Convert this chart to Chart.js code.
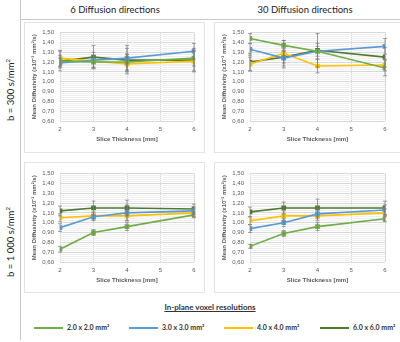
<!DOCTYPE html>
<html>
<head>
<meta charset="utf-8">
<script src="https://cdn.jsdelivr.net/npm/chart.js@4.4.1/dist/chart.umd.min.js"></script>
<style>
  body { margin: 0; background: #fff; font-family: Lato, "Open Sans", sans-serif; }
  #wrap { position: relative; width: 400px; height: 342px; overflow: hidden; }
  .abs { position: absolute; }
  .box { position: absolute; border: 1px solid #e3e3e3; box-sizing: border-box; }
  .head { position: absolute; top: 4px; font-size: 9.5px; color: #222; text-align: center; width: 180px; }
  .rowlab { position: absolute; font-size: 9.5px; color: #222; white-space: nowrap;
            transform: translate(-50%, -50%) rotate(-90deg); }
  canvas { position: absolute; }
  #legTitle { position: absolute; top: 302px; left: 110px; width: 200px; text-align: center;
              font-size: 8px; font-weight: bold; text-decoration: underline; color: #333; }
  .legItem { position: absolute; top: 323px; font-size: 7px; font-weight: bold; color: #333; white-space: nowrap; }
  .legItem span { display: inline-block; width: 29px; height: 2px; vertical-align: middle; margin-right: 4px; }
</style>
</head>
<body>
<div id="wrap">
  <div class="abs" style="left:20px;top:0;width:1px;height:340px;background:#c8c8c8"></div>
  <div class="abs" style="left:20px;top:19px;width:380px;height:1px;background:#c8c8c8"></div>
  <div class="head" style="left:25px">6 Diffusion directions</div>
  <div class="head" style="left:215px">30 Diffusion directions</div>
  <div class="rowlab" style="left:10px;top:90px">b = 300 s/mm<sup style="font-size:6px">2</sup></div>
  <div class="rowlab" style="left:10px;top:242px">b = 1 000 s/mm<sup style="font-size:6px">2</sup></div>
  <div class="box" style="left:24px;top:22px;width:181px;height:131px"></div>
  <div class="box" style="left:214px;top:22px;width:190px;height:131px"></div>
  <div class="box" style="left:24px;top:162px;width:181px;height:131px"></div>
  <div class="box" style="left:214px;top:162px;width:190px;height:131px"></div>
  <canvas id="c1" width="178" height="128" style="left:25px;top:23px"></canvas>
  <canvas id="c2" width="180" height="128" style="left:215px;top:23px"></canvas>
  <canvas id="c3" width="178" height="128" style="left:25px;top:164px"></canvas>
  <canvas id="c4" width="180" height="128" style="left:215px;top:164px"></canvas>
  <div id="legTitle">In-plane voxel resolutions</div>
  <div id="legend"></div>
</div>
<script>
// slice thickness (mm)
const thickness = [2, 3, 4, 6];
const resolutions = ['2.0 x 2.0 mm²', '3.0 x 3.0 mm²', '4.0 x 4.0 mm²', '6.0 x 6.0 mm²'];
const yTicks = [0.6, 0.7, 0.8, 0.9, 1.0, 1.1, 1.2, 1.3, 1.4, 1.5];

// mean diffusivity, one row per in-plane resolution
const b300dir6 = [
  [1.21, 1.20, 1.20, 1.24],
  [1.19, 1.22, 1.24, 1.31],
  [1.24, 1.21, 1.18, 1.21],
  [1.21, 1.25, 1.22, 1.22]
];
const b300dir6Err = [
  [0.10, 0.06, 0.08, 0.08],
  [0.05, 0.08, 0.13, 0.08],
  [0.08, 0.06, 0.10, 0.10],
  [0.06, 0.12, 0.12, 0.12]
];
const b300dir30 = [
  [1.44, 1.37, 1.31, 1.14],
  [1.33, 1.24, 1.31, 1.36],
  [1.18, 1.29, 1.16, 1.17],
  [1.20, 1.25, 1.32, 1.25]
];
const b300dir30Err = [
  [0.05, 0.05, 0.05, 0.08],
  [0.06, 0.10, 0.08, 0.08],
  [0.07, 0.13, 0.07, 0.06],
  [0.09, 0.06, 0.17, 0.10]
];
const b1000dir6 = [
  [0.73, 0.90, 0.96, 1.08],
  [0.95, 1.06, 1.10, 1.12],
  [1.05, 1.07, 1.07, 1.10],
  [1.12, 1.15, 1.15, 1.14]
];
const b1000dir6Err = [
  [0.03, 0.03, 0.04, 0.03],
  [0.04, 0.04, 0.08, 0.04],
  [0.04, 0.04, 0.05, 0.04],
  [0.05, 0.07, 0.08, 0.05]
];
const b1000dir30 = [
  [0.76, 0.89, 0.96, 1.04],
  [0.94, 1.00, 1.09, 1.13],
  [1.02, 1.07, 1.07, 1.10],
  [1.11, 1.15, 1.15, 1.15]
];
const b1000dir30Err = [
  [0.02, 0.03, 0.04, 0.03],
  [0.04, 0.04, 0.05, 0.05],
  [0.04, 0.05, 0.05, 0.04],
  [0.05, 0.06, 0.09, 0.07]
];

const colors = ['#70AD47', '#5B9BD5', '#FFC000', '#4E7A30'];

// simple error bar plugin, positions come from the chart scales
const errorBars = {
  id: 'errorBars',
  afterDatasetsDraw(chart) {
    const ctx = chart.ctx;
    const xs = chart.scales.x, ys = chart.scales.y;
    ctx.save();
    ctx.strokeStyle = '#7a7a7a';
    ctx.lineWidth = 0.7;
    chart.data.datasets.forEach(ds => {
      ds.data.forEach((p, i) => {
        const px = xs.getPixelForValue(p.x);
        const top = ys.getPixelForValue(p.y + ds.errors[i]);
        const bot = ys.getPixelForValue(p.y - ds.errors[i]);
        ctx.beginPath();
        ctx.moveTo(px, top); ctx.lineTo(px, bot);
        ctx.moveTo(px - 2, top); ctx.lineTo(px + 2, top);
        ctx.moveTo(px - 2, bot); ctx.lineTo(px + 2, bot);
        ctx.stroke();
      });
    });
    ctx.restore();
  }
};

function isMajor(v) {
  return yTicks.some(t => Math.abs(t - v) < 1e-6);
}

function makeChart(id, means, errs, rightPad) {
  const datasets = means.map((row, s) => ({
    label: resolutions[s],
    data: thickness.map((t, i) => ({ x: t, y: row[i] })),
    errors: errs[s],
    borderColor: colors[s],
    backgroundColor: colors[s],
    borderWidth: 1.6,
    pointRadius: 2.2,
    pointStyle: 'rect',
    tension: 0
  }));
  new Chart(document.getElementById(id), {
    type: 'line',
    data: { datasets: datasets },
    plugins: [errorBars],
    options: {
      responsive: false,
      animation: false,
      layout: { padding: { top: 6, right: rightPad, bottom: 8, left: 0 } },
      plugins: { legend: { display: false }, tooltip: { enabled: false } },
      scales: {
        x: {
          type: 'linear', min: 2, max: 6,
          afterFit: s => { s.height = 22; },
          grid: { color: '#d9d9d9', drawTicks: false },
          border: { display: false },
          ticks: { stepSize: 1, padding: 5, color: '#595959', font: { size: 6 } },
          title: { display: true, text: 'Slice Thickness [mm]', color: '#595959',
                   font: { size: 6, weight: 'bold' }, padding: { top: 2, bottom: 0 } }
        },
        y: {
          min: 0.6, max: 1.5,
          afterFit: s => { s.width = 35; },
          afterBuildTicks: s => {
            const t = [];
            for (let k = 0; k <= 45; k++) t.push({ value: Math.round((0.6 + k * 0.02) * 100) / 100 });
            s.ticks = t;
          },
          grid: { drawTicks: false, color: c => isMajor(c.tick.value) ? '#d9d9d9' : '#f0f0f0' },
          border: { display: false },
          ticks: {
            autoSkip: false, padding: 6, color: '#595959', font: { size: 6 },
            callback: v => isMajor(v) ? v.toFixed(2).replace('.', ',') : ''
          },
          title: { display: true, text: 'Mean Diffusivity (x10⁻³ mm²/s)', color: '#595959',
                   font: { size: 6, weight: 'bold' }, padding: { top: 6, bottom: 0 } }
        }
      }
    }
  });
}

makeChart('c1', b300dir6, b300dir6Err, 9);
makeChart('c2', b300dir30, b300dir30Err, 10);
makeChart('c3', b1000dir6, b1000dir6Err, 9);
makeChart('c4', b1000dir30, b1000dir30Err, 10);

// legend row
const legLeft = [34, 129, 224, 320];
const leg = document.getElementById('legend');
resolutions.forEach((r, s) => {
  const d = document.createElement('div');
  d.className = 'legItem';
  d.style.left = legLeft[s] + 'px';
  d.innerHTML = '<span style="background:' + colors[s] + '"></span>' + r;
  leg.appendChild(d);
});
</script>
</body>
</html>
